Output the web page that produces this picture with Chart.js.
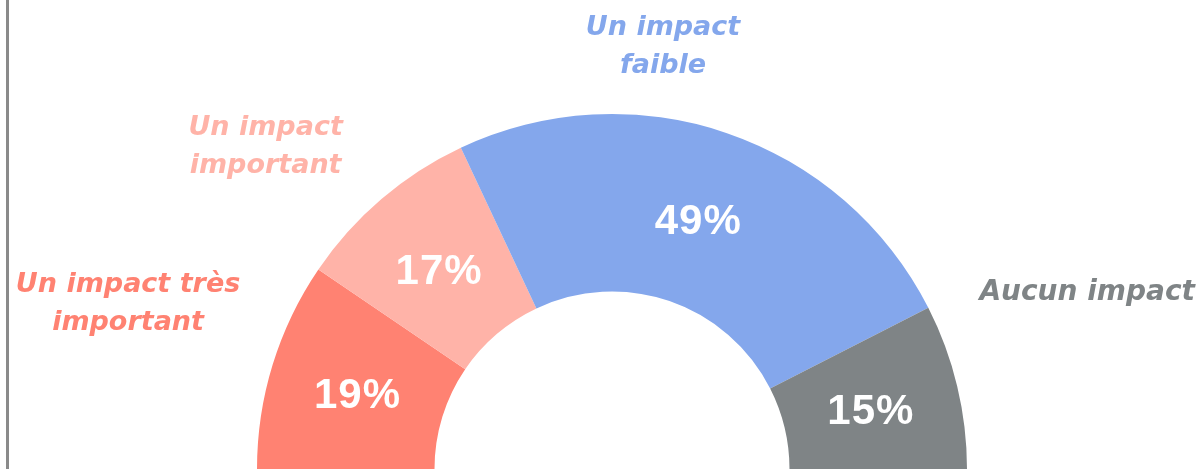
<!DOCTYPE html>
<html>
<head>
<meta charset="utf-8">
<script src="https://cdn.jsdelivr.net/npm/chart.js@4.4.1/dist/chart.umd.min.js"></script>
<style>
  html, body { margin: 0; padding: 0; background: #ffffff; }
  #wrap { position: relative; width: 1204px; height: 469px; overflow: hidden; }
  #bord { position: absolute; left: 6px; top: 0; width: 3px; height: 469px; background: #8a8a8a; }
</style>
</head>
<body>
<div id="wrap">
  <div id="bord"></div>
  <canvas id="graficoImpact"></canvas>
</div>
<script>
// categories and values
let categorias = [
    ["Un impact très", "important"],
    ["Un impact", "important"],
    ["Un impact", "faible"],
    ["Aucun impact"]
];
let valores = [19, 17, 49, 15];
let etiquetas = ["19%", "17%", "49%", "15%"];
let colores = ["#ff8272", "#ffb3a8", "#84a7ec", "#7f8486"];

// where each category name sits, relative to its slice (angle nudge in deg, distance / outer radius)
let posEtiquetas = [
    { giro: 1.7, dist: 1.44 },
    { giro: -6.6, dist: 1.332 },
    { giro: -12, dist: 1.197 },
    { giro: -6.9, dist: 1.428 }
];

const etiquetasPlugin = {
    id: "etiquetasPlugin",
    afterDatasetsDraw(chart) {
        const ctx = chart.ctx;
        const meta = chart.getDatasetMeta(0);
        ctx.save();
        meta.data.forEach((arc, i) => {
            const p = arc.getProps(["x", "y", "startAngle", "endAngle", "outerRadius", "innerRadius"], true);
            const mid = (p.startAngle + p.endAngle) / 2;

            // percentage inside the slice
            const pos = arc.tooltipPosition(true);
            ctx.fillStyle = "#ffffff";
            ctx.font = "bold 42px 'Liberation Sans', Arial, sans-serif";
            ctx.textAlign = "center";
            ctx.textBaseline = "alphabetic";
            ctx.letterSpacing = "1px";
            ctx.fillText(etiquetas[i], pos.x, pos.y + 17);
            ctx.letterSpacing = "0px";

            // category name outside
            const a = mid + posEtiquetas[i].giro * Math.PI / 180;
            const r = p.outerRadius * posEtiquetas[i].dist;
            const lx = p.x + Math.cos(a) * r;
            const ly = p.y + Math.sin(a) * r;
            const lineas = categorias[i];
            const alto = 38;
            ctx.fillStyle = colores[i];
            ctx.textBaseline = "middle";
            ctx.font = lineas.length === 1
                ? "italic bold 28px 'DejaVu Sans', sans-serif"
                : "italic bold 27px 'DejaVu Sans', sans-serif";
            lineas.forEach((t, j) => {
                ctx.fillText(t, lx, ly + (j - (lineas.length - 1) / 2) * alto);
            });
        });
        ctx.restore();
    }
};

let grafico = new Chart(document.getElementById("graficoImpact").getContext("2d"), {
    type: "doughnut",
    data: {
        labels: categorias.map(c => c.join(" ")),
        datasets: [{
            data: valores,
            backgroundColor: colores,
            borderWidth: 0
        }]
    },
    options: {
        responsive: true,
        maintainAspectRatio: false,
        animation: false,
        rotation: -90,
        circumference: 180,
        cutout: "50%",
        layout: { padding: { top: 114, left: 20, right: 0, bottom: 0 } },
        plugins: {
            legend: { display: false },
            tooltip: { enabled: false }
        }
    },
    plugins: [etiquetasPlugin]
});
</script>
</body>
</html>
